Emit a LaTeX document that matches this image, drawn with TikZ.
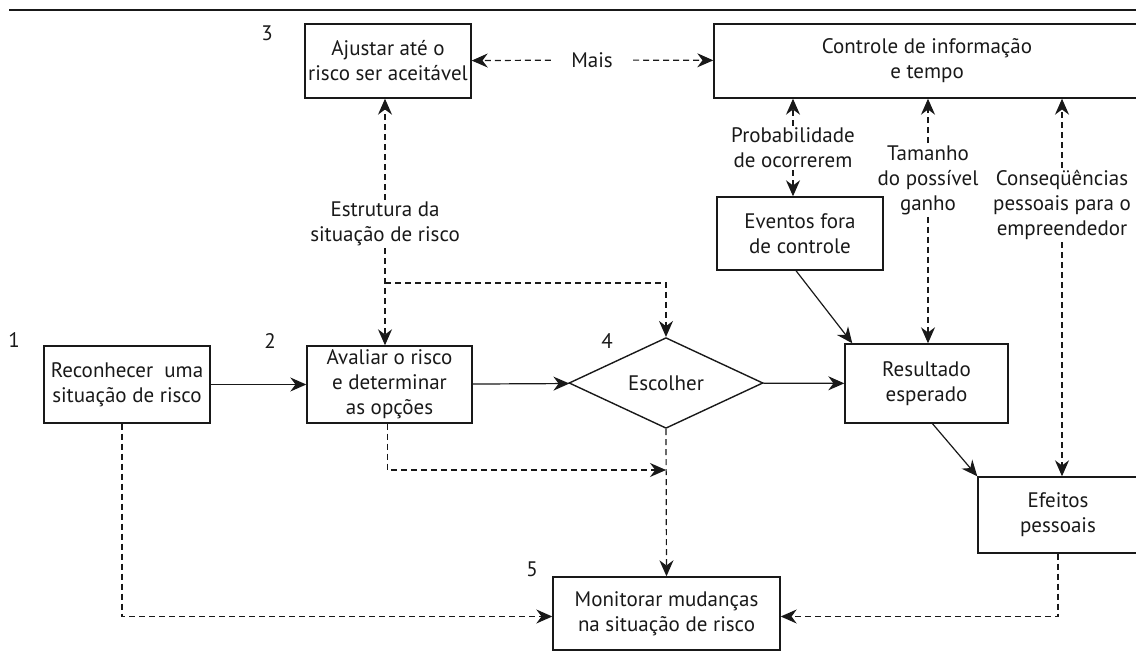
\documentclass[tikz,border=0pt]{standalone}
\usepackage{fontspec}
\setmainfont{PT Sans}
\usepackage{tikz}
\usetikzlibrary{arrows.meta, positioning, shapes.geometric, calc}
\tikzset{
	caixa/.style={draw, line width=0.7pt, align=center, inner sep=0pt},
	rotulo/.style={align=center, inner sep=1pt},
	numero/.style={inner sep=0pt},
	seta/.style={-{Stealth[length=8pt, width=7pt, inset=2.6pt]}, line width=0.6pt},
	tracejada/.style={seta, dash pattern=on 3pt off 2pt},
}
\definecolor{Tinta}{RGB}{25, 25, 25}

\begin{document}
\begin{tikzpicture}[x=0.5pt, y=-0.5pt, every node/.style={font=\fontsize{10.5}{12.5}\selectfont, text=Tinta}, draw=Tinta]
\clip (0,0) rectangle (1136,668);
\draw[line width=1.2pt, draw=Tinta] (9,10) -- (1140,10);

% caixas
\node[caixa, minimum width=83pt, minimum height=38.5pt] (rec) at (127,384.5) {Reconhecer~ uma\\situação de risco};
\node[caixa, minimum width=82.5pt, minimum height=38.5pt] (aval) at (389.5,384.5) {Avaliar o risco\\e determinar\\as opções};
\node[caixa, minimum width=83pt, minimum height=37pt] (ajust) at (388,61) {Ajustar até o\\risco ser aceitável};
\node[caixa, minimum width=213pt, minimum height=37pt] (contr) at (927,61) {Controle de informação\\e tempo};
\node[caixa, minimum width=83pt, minimum height=36.5pt] (event) at (800,233.5) {Eventos fora\\de controle};
\node[caixa, minimum width=81.5pt, minimum height=39.5pt] (resul) at (926.5,383.5) {Resultado\\esperado};
\node[caixa, minimum width=80pt, minimum height=38pt] (efeit) at (1058,515) {Efeitos\\pessoais};
\node[caixa, minimum width=113.5pt, minimum height=36.5pt] (moni) at (666.5,613.5) {Monitorar mudanças\\na situação de risco};
\node[caixa, diamond, minimum width=97pt, minimum height=39.5pt] (esc) at (666,383) {Escolher};

% numeros
\node[numero] (n1) at (14,340) {1};
\node[numero] (n2) at (270,341) {2};
\node[numero] (n3) at (267,33) {3};
\node[numero] (n4) at (607,341) {4};
\node[numero] (n5) at (532,569) {5};

% rotulos
\node[rotulo, inner xsep=10pt] (mais) at (592,60) {Mais};
\node[rotulo] (est) at (385,224) {Estrutura da\\situação de risco};
\node[rotulo] (prob) at (793,148) {Probabilidade\\de ocorrerem};
\node[rotulo] (tam) at (928,180) {Tamanho\\do possível\\ganho};
\node[rotulo] (cons) at (1062,205) {Conseqüências\\pessoais para o\\empreendedor};

\coordinate (brk) at (385,283);
\coordinate (jn) at (666,470);

% setas cheias
\draw[seta] (rec) -- (aval);
\draw[seta] (aval) -- (esc);
\draw[seta] (esc) -- (resul);
\draw[seta] ([xshift=-2pt]event.south) -- ([xshift=4pt]resul.north west);
\draw[seta] ([xshift=3pt]resul.south) -- (efeit.north west);

% setas tracejadas
\draw[tracejada] (mais) -- (ajust);
\draw[tracejada] (mais) -- (contr);
\draw[tracejada] (est.north) -- (est.north |- ajust.south);
\draw[tracejada] (est.south) -- (est.south |- aval.north);
\draw[tracejada] (brk) -- (brk -| esc.north) -- (esc.north);
\draw[tracejada] (prob.north) -- (prob.north |- contr.south);
\draw[tracejada] (prob.south) -- (prob.south |- event.north);
\draw[tracejada] (tam.north) -- (tam.north |- contr.south);
\draw[tracejada] (tam.south) -- (tam.south |- resul.north);
\draw[tracejada] (cons.north) -- (cons.north |- contr.south);
\draw[tracejada] (cons.south) -- (cons.south |- efeit.north);
\draw[tracejada] ([xshift=-2.5pt]rec.south) |- ([yshift=-1.5pt]moni.west);
\draw[tracejada] ([xshift=-1pt]aval.south) |- (jn);
\draw[tracejada] (esc.south) -- (moni.north);
\draw[tracejada] (efeit.south) |- ([yshift=-1.5pt]moni.east);
\end{tikzpicture}
\end{document}
